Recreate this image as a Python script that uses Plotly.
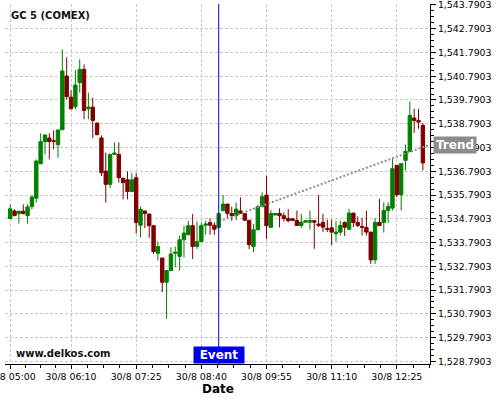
import pandas as pd
import plotly.graph_objects as go

# 5 minute candles, GC 5 (COMEX), 30/8
times = pd.date_range("2023-08-30 05:00", periods=96, freq="5min")

opens = [1534.80, 1535.12, 1535.01, 1535.11, 1534.93, 1535.31, 1535.66, 1537.11, 1538.04, 1538.19,
         1538.08, 1537.91, 1538.54, 1540.80, 1539.91, 1539.51, 1540.52, 1541.08, 1539.42, 1539.49,
         1538.82, 1538.19, 1536.80, 1536.24, 1537.50, 1537.50, 1536.50, 1536.43, 1535.94, 1536.52,
         1534.52, 1535.12, 1534.99, 1534.50, 1533.34, 1533.14, 1532.12, 1532.61, 1533.34, 1533.21,
         1533.91, 1534.12, 1534.50, 1533.63, 1533.83, 1534.52, 1534.63, 1534.52, 1534.43, 1535.13,
         1535.41, 1535.01, 1534.92, 1535.12, 1535.01, 1534.73, 1533.63, 1534.33, 1535.30, 1535.79,
         1534.43, 1534.95, 1535.02, 1534.92, 1534.80, 1534.79, 1534.72, 1534.51, 1534.65, 1534.65,
         1534.71, 1534.57, 1534.64, 1534.38, 1534.41, 1534.16, 1534.23, 1534.64, 1534.35, 1535.03,
         1534.64, 1534.47, 1534.43, 1534.23, 1533.06, 1534.64, 1534.64, 1535.14, 1535.24, 1537.04,
         1535.80, 1537.25, 1537.63, 1539.03, 1538.93, 1538.72]
highs = [1535.40, 1535.19, 1535.12, 1535.40, 1535.40, 1535.78, 1537.29, 1538.39, 1538.33, 1538.39,
         1538.51, 1538.53, 1541.92, 1541.59, 1540.19, 1541.05, 1541.50, 1541.29, 1540.10, 1539.89,
         1538.84, 1538.30, 1537.57, 1537.53, 1538.00, 1538.00, 1536.50, 1536.78, 1536.71, 1536.73,
         1535.30, 1535.13, 1535.01, 1534.52, 1533.83, 1533.15, 1532.62, 1533.59, 1533.62, 1534.08,
         1534.50, 1534.71, 1534.99, 1534.68, 1534.64, 1534.71, 1534.81, 1534.64, 1535.01, 1535.79,
         1535.42, 1535.30, 1535.48, 1535.69, 1535.01, 1534.74, 1534.57, 1535.38, 1535.90, 1536.60,
         1535.16, 1535.02, 1535.23, 1535.06, 1535.20, 1534.82, 1535.14, 1535.00, 1534.73, 1535.14,
         1534.72, 1535.80, 1535.00, 1534.76, 1534.76, 1534.71, 1534.71, 1534.68, 1535.21, 1535.04,
         1534.89, 1534.83, 1535.13, 1534.24, 1534.82, 1535.63, 1535.49, 1535.49, 1537.32, 1537.05,
         1537.12, 1537.91, 1539.73, 1539.42, 1539.42, 1538.82]
lows = [1534.78, 1534.89, 1534.59, 1534.98, 1534.59, 1535.19, 1535.47, 1537.08, 1537.50, 1537.29,
        1537.71, 1537.36, 1538.52, 1539.82, 1539.40, 1539.40, 1540.10, 1538.98, 1538.98, 1538.18,
        1538.31, 1536.59, 1535.47, 1536.08, 1537.49, 1536.31, 1535.61, 1535.61, 1535.90, 1534.17,
        1534.00, 1534.40, 1533.99, 1533.31, 1533.03, 1531.70, 1530.58, 1532.60, 1532.75, 1532.61,
        1533.17, 1534.10, 1533.10, 1533.52, 1533.82, 1534.12, 1534.12, 1534.12, 1534.42, 1535.12,
        1534.82, 1534.71, 1534.74, 1535.01, 1534.72, 1533.52, 1533.38, 1534.32, 1535.29, 1533.94,
        1534.42, 1534.94, 1534.43, 1534.68, 1534.64, 1534.70, 1534.50, 1534.40, 1534.64, 1534.33,
        1533.53, 1534.44, 1534.23, 1534.23, 1533.69, 1533.83, 1534.09, 1534.07, 1534.34, 1534.44,
        1534.44, 1534.09, 1534.09, 1532.89, 1532.89, 1534.50, 1534.21, 1534.61, 1535.14, 1535.70,
        1535.14, 1536.83, 1537.62, 1538.41, 1538.58, 1536.83]
closes = [1535.21, 1534.93, 1535.11, 1535.01, 1535.29, 1535.71, 1537.22, 1538.04, 1538.32, 1538.04,
          1538.05, 1538.53, 1541.01, 1539.93, 1539.42, 1540.42, 1541.08, 1539.35, 1539.49, 1538.93,
          1538.33, 1536.73, 1536.24, 1537.50, 1537.56, 1536.52, 1536.31, 1535.94, 1536.43, 1534.63,
          1535.19, 1535.01, 1534.50, 1533.41, 1533.62, 1532.12, 1532.61, 1533.31, 1533.38, 1533.91,
          1534.19, 1534.50, 1533.63, 1533.83, 1534.50, 1534.57, 1534.52, 1534.35, 1535.01, 1535.41,
          1535.02, 1534.92, 1535.20, 1535.02, 1534.73, 1533.70, 1534.33, 1535.30, 1535.72, 1534.50,
          1535.01, 1535.01, 1534.92, 1534.80, 1534.71, 1534.72, 1534.51, 1534.65, 1534.71, 1534.71,
          1534.65, 1534.51, 1534.44, 1534.34, 1534.23, 1534.23, 1534.51, 1534.44, 1535.03, 1534.64,
          1534.51, 1534.44, 1534.23, 1533.06, 1534.64, 1534.51, 1535.14, 1535.31, 1536.90, 1535.80,
          1537.11, 1537.63, 1539.14, 1538.93, 1538.86, 1537.14]

event_time = "2023-08-30 09:00"
trend_x = ["2023-08-30 09:05", "2023-08-30 13:03"]
trend_y = [1534.74, 1537.91]

x_tick_times = ["05:00", "06:10", "07:25", "08:40", "09:55", "11:10", "12:25"]
y_ticks = [round(1528.7903 + i, 4) for i in range(16)]

FONT = "DejaVu Sans"
GRID = "#c8c8c8"

xt = [pd.Timestamp("2023-08-30 " + t) for t in x_tick_times]
# four minor steps between labelled ticks
minor_x = []
for a, b in zip(xt[:-1], xt[1:]):
    step = (b - a) / 4
    minor_x += [a + step * j for j in range(1, 4)]
step = (xt[-1] - xt[-2]) / 4
minor_x += [xt[-1] + step * j for j in range(1, 3)]
fmt = "%Y-%m-%d %H:%M:%S"

fig = go.Figure()
fig.add_trace(go.Candlestick(
    x=times, open=opens, high=highs, low=lows, close=closes,
    increasing=dict(line=dict(color="#008000", width=1), fillcolor="#008000"),
    decreasing=dict(line=dict(color="#800000", width=1), fillcolor="#800000"),
    whiskerwidth=0, showlegend=False, hoverinfo="skip",
))
fig.add_trace(go.Scatter(
    x=trend_x, y=trend_y, mode="lines",
    line=dict(color="#8f8f8f", width=2, dash="2px,2px"),
    showlegend=False, hoverinfo="skip",
))

fig.add_shape(type="line", xref="x", yref="paper", x0=event_time, x1=event_time,
              y0=0, y1=1, line=dict(color="#0000cc", width=1), layer="above")

fig.add_annotation(text="GC 5 (COMEX)", xref="paper", yref="paper", x=0.01, y=0.968,
                   xanchor="left", yanchor="middle", showarrow=False,
                   font=dict(family=FONT, size=10, color="#111111", weight="bold"))
fig.add_annotation(text="www.delkos.com", xref="paper", yref="paper", x=0.022, y=0.028,
                   xanchor="left", yanchor="middle", showarrow=False,
                   font=dict(family=FONT, size=10, color="#111111", weight="bold"))
fig.add_annotation(text="Event", xref="x", yref="paper", x=event_time, y=0,
                   xanchor="center", yanchor="bottom", showarrow=False,
                   width=50, height=16, bgcolor="#0000ee", borderpad=0,
                   font=dict(family=FONT, size=12, color="white", weight="bold"))
fig.add_annotation(text="Trend", xref="paper", yref="y", x=1, y=trend_y[-1],
                   xanchor="left", yanchor="middle", xshift=3, showarrow=False,
                   width=42, height=16, bgcolor="#8c8c8c", borderpad=0,
                   font=dict(family=FONT, size=12, color="white", weight="bold"))
fig.add_annotation(text="Date", xref="paper", yref="paper", x=0.5, y=-0.07,
                   xanchor="center", yanchor="middle", showarrow=False,
                   font=dict(family=FONT, size=12, color="black", weight="bold"))

fig.update_layout(
    width=500, height=400,
    margin=dict(l=5, r=70, t=4, b=36, autoexpand=False),
    paper_bgcolor="white", plot_bgcolor="white",
    font=dict(family=FONT, size=9.4, color="black"),
    boxgap=0.22, boxgroupgap=0,
    xaxis=dict(
        type="date", rangeslider=dict(visible=False), automargin=False,
        range=["2023-08-30 04:54:00", "2023-08-30 13:03:12"],
        tickmode="array", tickvals=[t.strftime(fmt) for t in xt],
        ticktext=["30/8 " + t for t in x_tick_times], ticklabeloverflow="allow",
        ticks="outside", ticklen=4, tickcolor="black",
        showline=True, linecolor="black", linewidth=1,
        showgrid=True, gridcolor=GRID, griddash="3px,2px", gridwidth=1,
        zeroline=False,
        minor=dict(tickmode="array", tickvals=[t.strftime(fmt) for t in minor_x],
                   ticks="outside", ticklen=3, tickcolor="black", showgrid=False),
    ),
    yaxis=dict(
        side="right", range=[1528.68, 1543.83], automargin=False,
        tickmode="array", tickvals=y_ticks, tickformat=",.4f", ticklabeloverflow="allow",
        ticks="outside", ticklen=5, tickcolor="black",
        showline=True, linecolor="black", linewidth=1,
        showgrid=True, gridcolor=GRID, griddash="3px,2px", gridwidth=1,
        zeroline=False,
        minor=dict(dtick=0.25, tick0=1528.7903, ticks="outside", ticklen=3,
                   tickcolor="black", showgrid=False),
    ),
)

# the page body has a default 8px margin; drop it so the chart sits at 0,0
fig.write_html("out.html", config={"displayModeBar": False},
               post_script="document.body.style.margin='0';")
